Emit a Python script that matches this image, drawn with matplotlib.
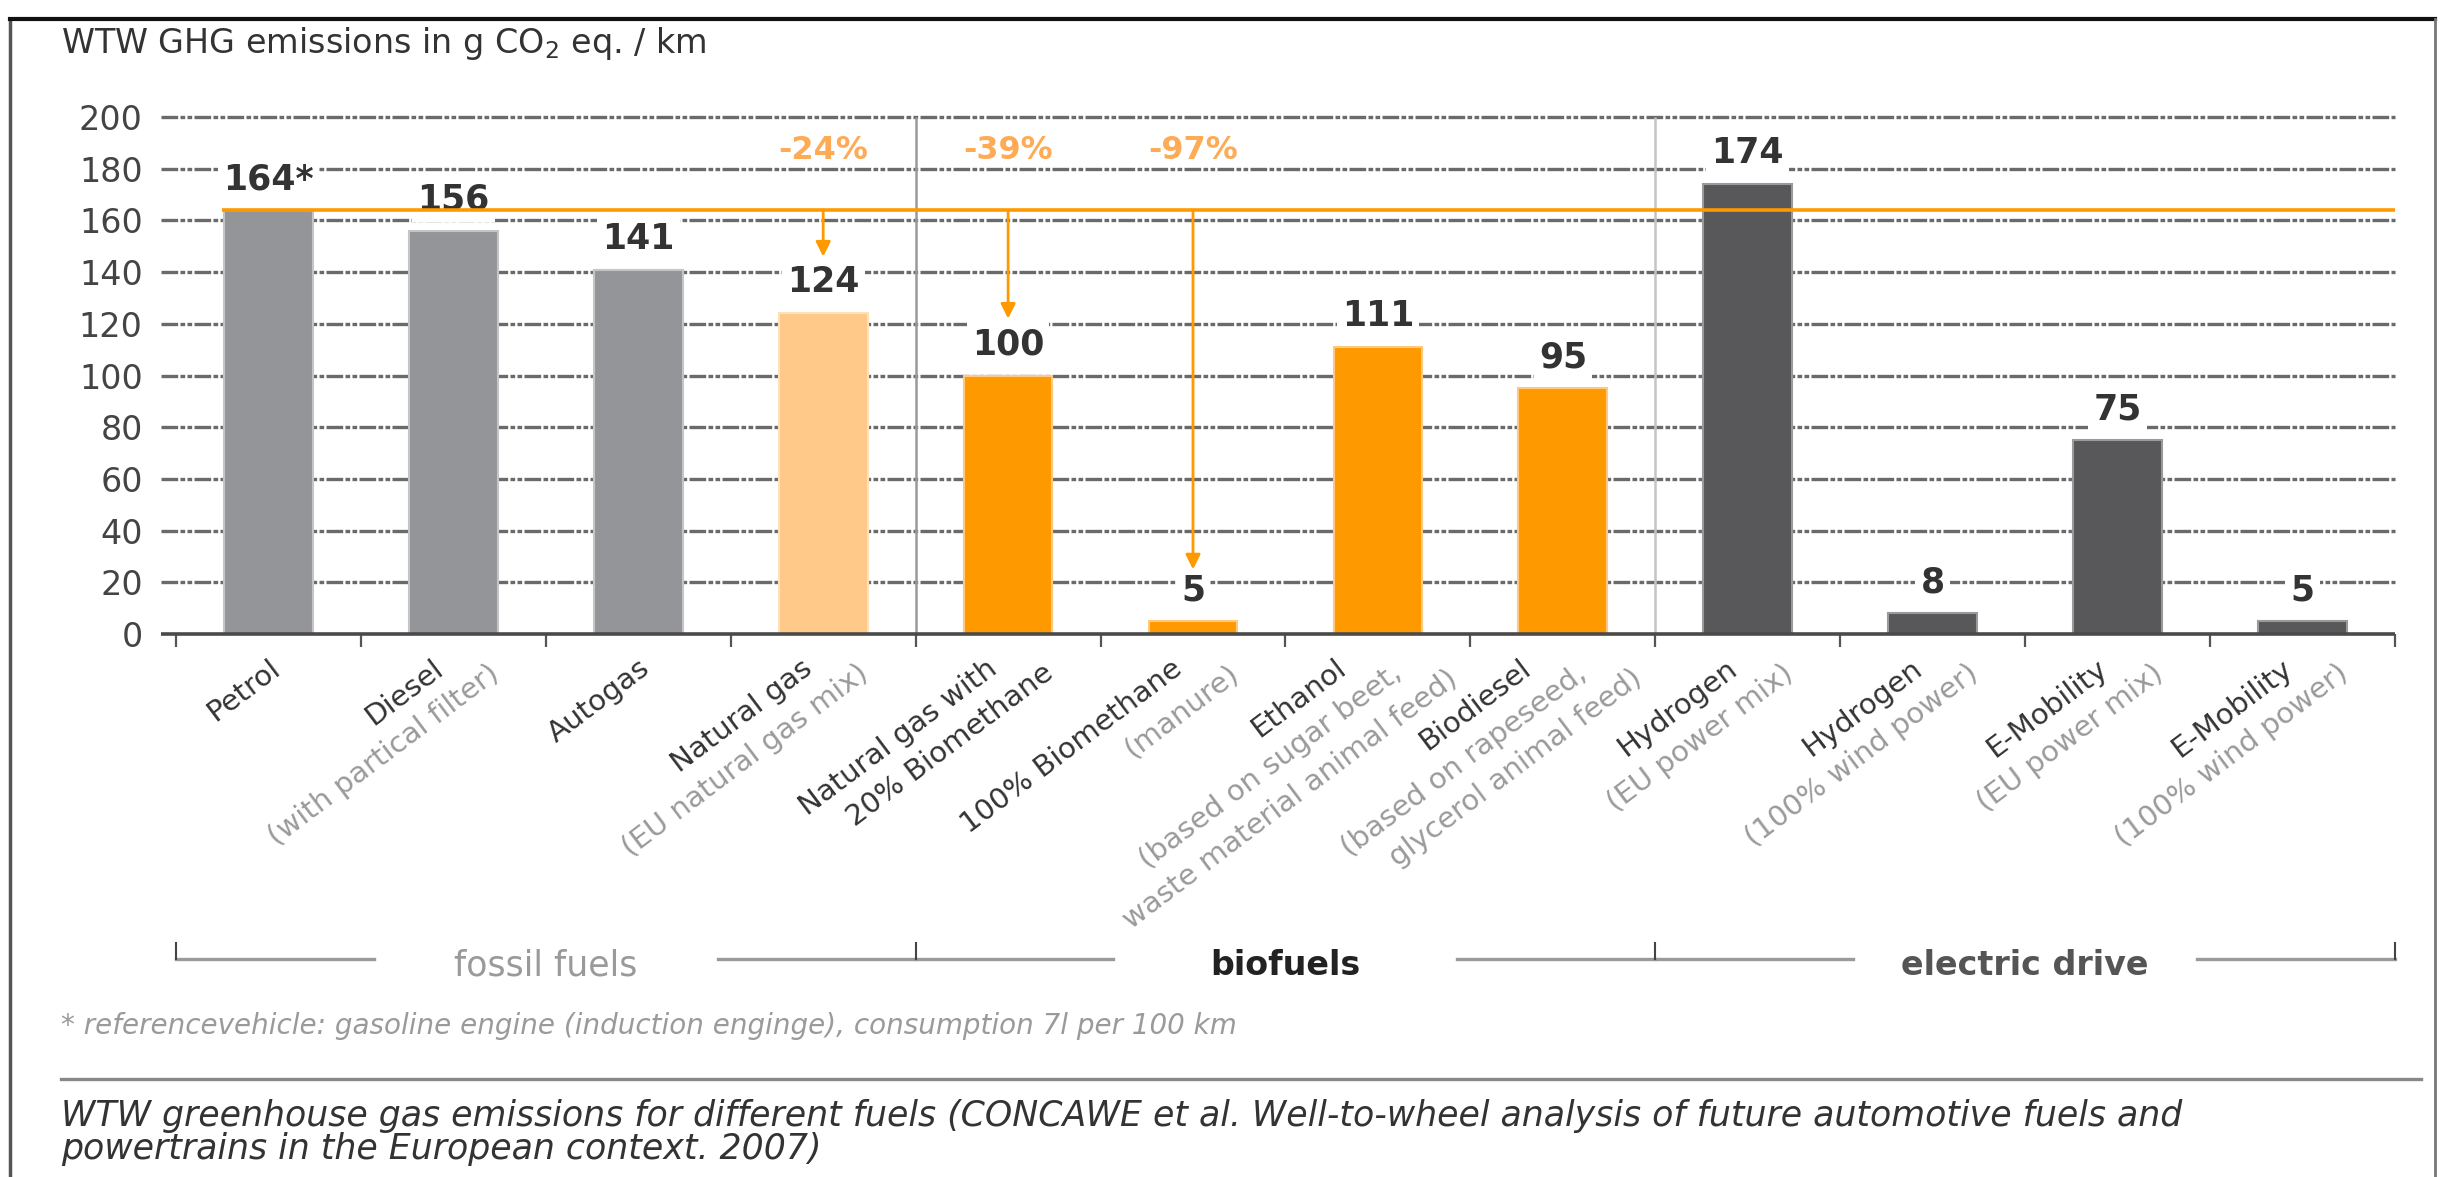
import numpy as np
import matplotlib.pyplot as plt
import matplotlib.transforms as mtransforms
from matplotlib.lines import Line2D

plt.rcParams['font.family'] = ['DejaVu Sans']

# data
main_lines = [["Petrol"], ["Diesel"], ["Autogas"], ["Natural gas"],
              ["Natural gas with", "20% Biomethane"], ["100% Biomethane"],
              ["Ethanol"], ["Biodiesel"], ["Hydrogen"], ["Hydrogen"],
              ["E-Mobility"], ["E-Mobility"]]
sub_lines = [[], ["(with partical filter)"], [], ["(EU natural gas mix)"], [],
             ["(manure)"], ["(based on sugar beet,", "waste material animal feed)"],
             ["(based on rapeseed,", "glycerol animal feed)"],
             ["(EU power mix)"], ["(100% wind power)"],
             ["(EU power mix)"], ["(100% wind power)"]]
values = [164, 156, 141, 124, 100, 5, 111, 95, 174, 8, 75, 5]
value_labels = ["164*", "156", "141", "124", "100", "5", "111", "95", "174", "8", "75", "5"]
bar_group = ["fossil", "fossil", "fossil", "ng", "bio", "bio", "bio", "bio",
             "elec", "elec", "elec", "elec"]
ref_value = 164
reduction_idx = [3, 4, 5]
reduction_text = ["-24%", "-39%", "-97%"]
reduction_end = [146, 122, 25]
groups = ["fossil fuels", "biofuels", "electric drive"]
group_span = [(-0.5, 3.5), (3.5, 7.5), (7.5, 11.5)]

fill = {"fossil": "#939598", "ng": "#FFC98A", "bio": "#FF9900", "elec": "#58585A"}
edge = {"fossil": "#c4c5c7", "ng": "#FFE0BC", "bio": "#FFC880", "elec": "#9a9a9c"}

fig = plt.figure(figsize=(24.45, 11.77), dpi=100)
ax = fig.add_axes([0.072, 0.4613, 0.9075, 0.4393])

x = np.arange(len(values))
ax.bar(x, values, width=0.48, color=[fill[g] for g in bar_group],
       edgecolor=[edge[g] for g in bar_group], linewidth=1.5, zorder=3)

ax.set_xlim(-0.5, 11.5)
ax.set_ylim(0, 200)
for s in ax.spines.values():
    s.set_visible(False)

ax.set_yticks(range(0, 201, 20))
ax.tick_params(axis='y', length=0, labelsize=24, labelcolor='#444444', pad=24)
ax.set_xticks(np.arange(-0.5, 11.6, 1))
ax.set_xticklabels([])
ax.tick_params(axis='x', length=9, width=1.6, color='#555555', direction='out')

# dash-dot-dot grid
for yv in range(20, 201, 20):
    ax.hlines(yv, -0.58, 11.5, colors='#6a6a6a', lw=2.4,
              linestyles=[(0, (5, 0.7, 1.4, 0.7, 1.4, 0.7))], zorder=1, clip_on=False)
ax.hlines(0, -0.58, 11.5, colors='#4a4a4a', lw=2.6, zorder=4, clip_on=False)

# group separators
ax.vlines(3.5, 0, 200, colors='#9a9a9a', lw=1.8, zorder=2)
ax.vlines(7.5, 0, 200, colors='#c4c4c4', lw=1.8, zorder=2)

# reference line and reductions
ax.hlines(ref_value, -0.25, 11.5, colors='#FF9900', lw=2.6, zorder=7)
for i, txt, end in zip(reduction_idx, reduction_text, reduction_end):
    ax.annotate('', xy=(i, end), xytext=(i, ref_value),
                arrowprops=dict(arrowstyle='-|>', color='#FF9900', lw=2,
                                mutation_scale=22, shrinkA=0, shrinkB=0), zorder=7)
    ax.text(i, 187, txt, ha='center', va='center', fontsize=23,
            fontweight='bold', color='#FFAA55', zorder=6)

# value labels
for i, (v, lab) in enumerate(zip(values, value_labels)):
    ax.text(i, v + 12, lab, ha='center', va='center', fontsize=25,
            fontweight='bold', color='#333333', zorder=6,
            bbox=dict(boxstyle='square,pad=0.15', fc='white', ec='none'))

# rotated category labels, one text per line
xtrans = ax.get_xaxis_transform()
for i in range(len(values)):
    lines = [(t, '#333333') for t in main_lines[i]] + [(t, '#9a9a9a') for t in sub_lines[i]]
    n = len(lines)
    for j, (t, c) in enumerate(lines):
        dx = (0 - 22 * (n - 1) + 56 * j) * 0.72
        dy = (-20 - 5 * j) * 0.72
        ax.annotate(t, xy=(i, 0), xycoords=xtrans, xytext=(dx, dy),
                    textcoords='offset points', rotation=37, rotation_mode='anchor',
                    ha='right', va='top', fontsize=21, color=c, annotation_clip=False)

# group brackets under the labels
btrans = mtransforms.blended_transform_factory(ax.transData, fig.transFigure)
y_line = 0.185
for (a, b), name in zip(group_span, groups):
    mid = (a + b) / 2
    ax.plot([a, mid - 0.93], [y_line, y_line], color='#9a9a9a', lw=2.4,
            transform=btrans, clip_on=False)
    ax.plot([mid + 0.93, b], [y_line, y_line], color='#9a9a9a', lw=2.4,
            transform=btrans, clip_on=False)
    if name == 'fossil fuels':
        ax.text(mid, 0.180, name, ha='center', va='center', fontsize=25,
                color='#9a9a9a', transform=btrans)
    elif name == 'biofuels':
        ax.text(mid, 0.180, name, ha='center', va='center', fontsize=24,
                fontweight='bold', color='#222222', transform=btrans)
    else:
        ax.text(mid, 0.180, name, ha='center', va='center', fontsize=24,
                fontweight='bold', color='#555555', transform=btrans)
for xb in [-0.5, 3.5, 7.5, 11.5]:
    ax.plot([xb, xb], [y_line, 0.199], color='#444444', lw=1.5,
            transform=btrans, clip_on=False)

# titles and notes
fig.text(0.025, 0.963, 'WTW GHG emissions in g CO$_2$ eq. / km', fontsize=24,
         color='#333333', va='center')
fig.text(0.025, 0.128, '* referencevehicle: gasoline engine (induction enginge), consumption 7l per 100 km',
         fontsize=20, style='italic', color='#9a9a9a', va='center')
fig.add_artist(Line2D([0.025, 0.99], [0.0834, 0.0834], color='#888888', lw=2.4))
fig.text(0.025, 0.0517, 'WTW greenhouse gas emissions for different fuels (CONCAWE et al. '
         'Well-to-wheel analysis of future automotive fuels and',
         fontsize=25, style='italic', color='#333333', va='center')
fig.text(0.025, 0.0237, 'powertrains in the European context. 2007)',
         fontsize=25, style='italic', color='#333333', va='center')

# outer frame
fig.add_artist(Line2D([0.004, 0.004], [0, 0.984], color='#555555', lw=2.5))
fig.add_artist(Line2D([0.004, 0.996], [0.984, 0.984], color='#111111', lw=3))
fig.add_artist(Line2D([0.996, 0.996], [0, 0.984], color='#777777', lw=2))

plt.savefig('out.png', dpi=100)
